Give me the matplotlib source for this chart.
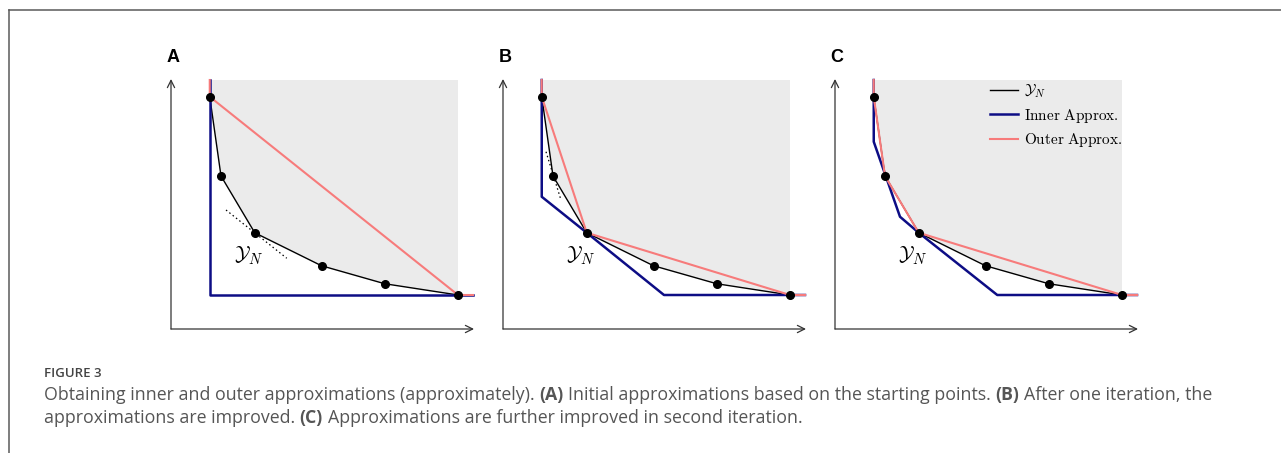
import matplotlib
matplotlib.use("Agg")
import matplotlib.pyplot as plt
from matplotlib.lines import Line2D

plt.rcParams['mathtext.fontset'] = 'cm'

W, H = 1281, 453

# nondominated points (same in all panels), panel units: 1 unit = 25 px
yn_x = [1.55, 2.0, 3.35, 6.02, 8.55, 11.48]
yn_y = [9.29, 6.12, 3.85, 2.53, 1.81, 1.36]
top_y = 9.96
end_x = 12.08

inner_x = {
    'A': [1.55, 1.55, 12.08],
    'B': [1.55, 1.55, 3.35, 6.44, 12.08],
    'C': [1.55, 1.55, 2.6, 3.35, 6.49, 12.08],
}
inner_y = {
    'A': [9.96, 1.36, 1.36],
    'B': [9.96, 5.29, 3.85, 1.36, 1.36],
    'C': [9.96, 7.49, 4.49, 3.85, 1.36, 1.36],
}
outer_x = {
    'A': [1.55, 1.55, 11.48, 12.08],
    'B': [1.55, 1.55, 3.35, 11.48, 12.08],
    'C': [1.55, 1.55, 2.0, 3.35, 11.48, 12.08],
}
outer_y = {
    'A': [9.96, 9.29, 1.36, 1.36],
    'B': [9.96, 9.29, 3.85, 1.36, 1.36],
    'C': [9.96, 9.29, 6.12, 3.85, 1.36, 1.36],
}
# dotted supporting lines
tangent_x = {'A': [2.2, 4.63], 'B': [1.72, 2.31]}
tangent_y = {'A': [4.76, 2.83], 'B': [7.09, 5.19]}

panels = ['A', 'B', 'C']
origins = [171, 503, 835]   # pixel x of each y axis
origin_y = 329

BLUE = '#0d0d85'
RED = '#f77b7b'
GRAY = '#ebebeb'

fig = plt.figure(figsize=(W / 100, H / 100), dpi=100)

for name, ox in zip(panels, origins):
    ax = fig.add_axes([ox / W, (H - origin_y) / H, 303 / W, 250 / H])
    ax.set_xlim(0, 12.12)
    ax.set_ylim(0, 10)
    ax.axis('off')

    # dominated region
    fx = [yn_x[0], yn_x[-1]] + yn_x[::-1]
    fy = [top_y, top_y] + yn_y[::-1]
    ax.fill(fx, fy, color=GRAY, lw=0, zorder=1)

    if name in tangent_x:
        ax.plot(tangent_x[name], tangent_y[name], color='black', lw=0.9,
                dashes=(1.2, 2.2), zorder=2)

    ax.plot(yn_x, yn_y, color='black', lw=1.0, zorder=3, label=r'$\mathcal{Y}_N$')
    ax.plot(inner_x[name], inner_y[name], color=BLUE, lw=1.8, zorder=4,
            clip_on=False, label=r'$\mathrm{Inner\ Approx.}$')
    ax.plot(outer_x[name], outer_y[name], color=RED, lw=1.5, zorder=5,
            clip_on=False, label=r'$\mathrm{Outer\ Approx.}$')
    ax.plot(yn_x, yn_y, 'o', color='black', ms=5.5, zorder=6, clip_on=False)

    # axis arrows
    arrow = dict(arrowstyle='->', lw=0.9, color='#333333', shrinkA=0, shrinkB=0,
                 mutation_scale=13)
    ax.annotate('', xy=(12.12, 0), xytext=(0, 0), arrowprops=arrow, annotation_clip=False)
    ax.annotate('', xy=(0, 10.0), xytext=(0, 0), arrowprops=arrow, annotation_clip=False)

    ax.text(3.1, 2.95, r'$\mathcal{Y}_N$', fontsize=15, ha='center', va='center', zorder=7)
    ax.text(0.08, 10.85, name, fontsize=13, fontweight='bold', family='Liberation Sans',
            ha='center', va='center', clip_on=False)

    if name == 'C':
        ax.legend(loc='upper left', bbox_to_anchor=(6.2 / 12.12, 0.985), frameon=False,
                  fontsize=11, borderaxespad=0, borderpad=0, handlelength=1.8,
                  handletextpad=0.45, labelspacing=0.42)

# frame lines of the figure box
fig.add_artist(Line2D([9 / W, 1], [1 - 10 / H, 1 - 10 / H], color='#5a5a5a', lw=1.1,
                      transform=fig.transFigure))
fig.add_artist(Line2D([9 / W, 9 / W], [1 - 10 / H, 0], color='#5a5a5a', lw=1.1,
                      transform=fig.transFigure))

# caption
cap_color = '#555555'
cap_size = 12.8
cap_x = 44
renderer = fig.canvas.get_renderer()

fig.text(cap_x / W, 1 - 377 / H, 'FIGURE 3', fontsize=9.5, color='#444444',
         family='Open Sans', fontweight='semibold', va='baseline')


def text_width(s, bold=False):
    t = fig.text(0, 0, s, fontsize=cap_size, family='Open Sans',
                 fontweight='bold' if bold else 'normal')
    w = t.get_window_extent(renderer).width
    t.remove()
    return w


space = text_width('a a') - text_width('aa')

caption_lines = [
    [('Obtaining inner and outer approximations (approximately).', False), ('(A)', True),
     ('Initial approximations based on the starting points.', False), ('(B)', True),
     ('After one iteration, the', False)],
    [('approximations are improved.', False), ('(C)', True),
     ('Approximations are further improved in second iteration.', False)],
]
baselines = [400, 423]

for parts, base in zip(caption_lines, baselines):
    x = cap_x
    for txt, bold in parts:
        t = fig.text(x / W, 1 - base / H, txt, fontsize=cap_size, family='Open Sans',
                     color=cap_color, fontweight='bold' if bold else 'normal',
                     va='baseline')
        x += t.get_window_extent(renderer).width + space

fig.savefig('out.png', dpi=100)
